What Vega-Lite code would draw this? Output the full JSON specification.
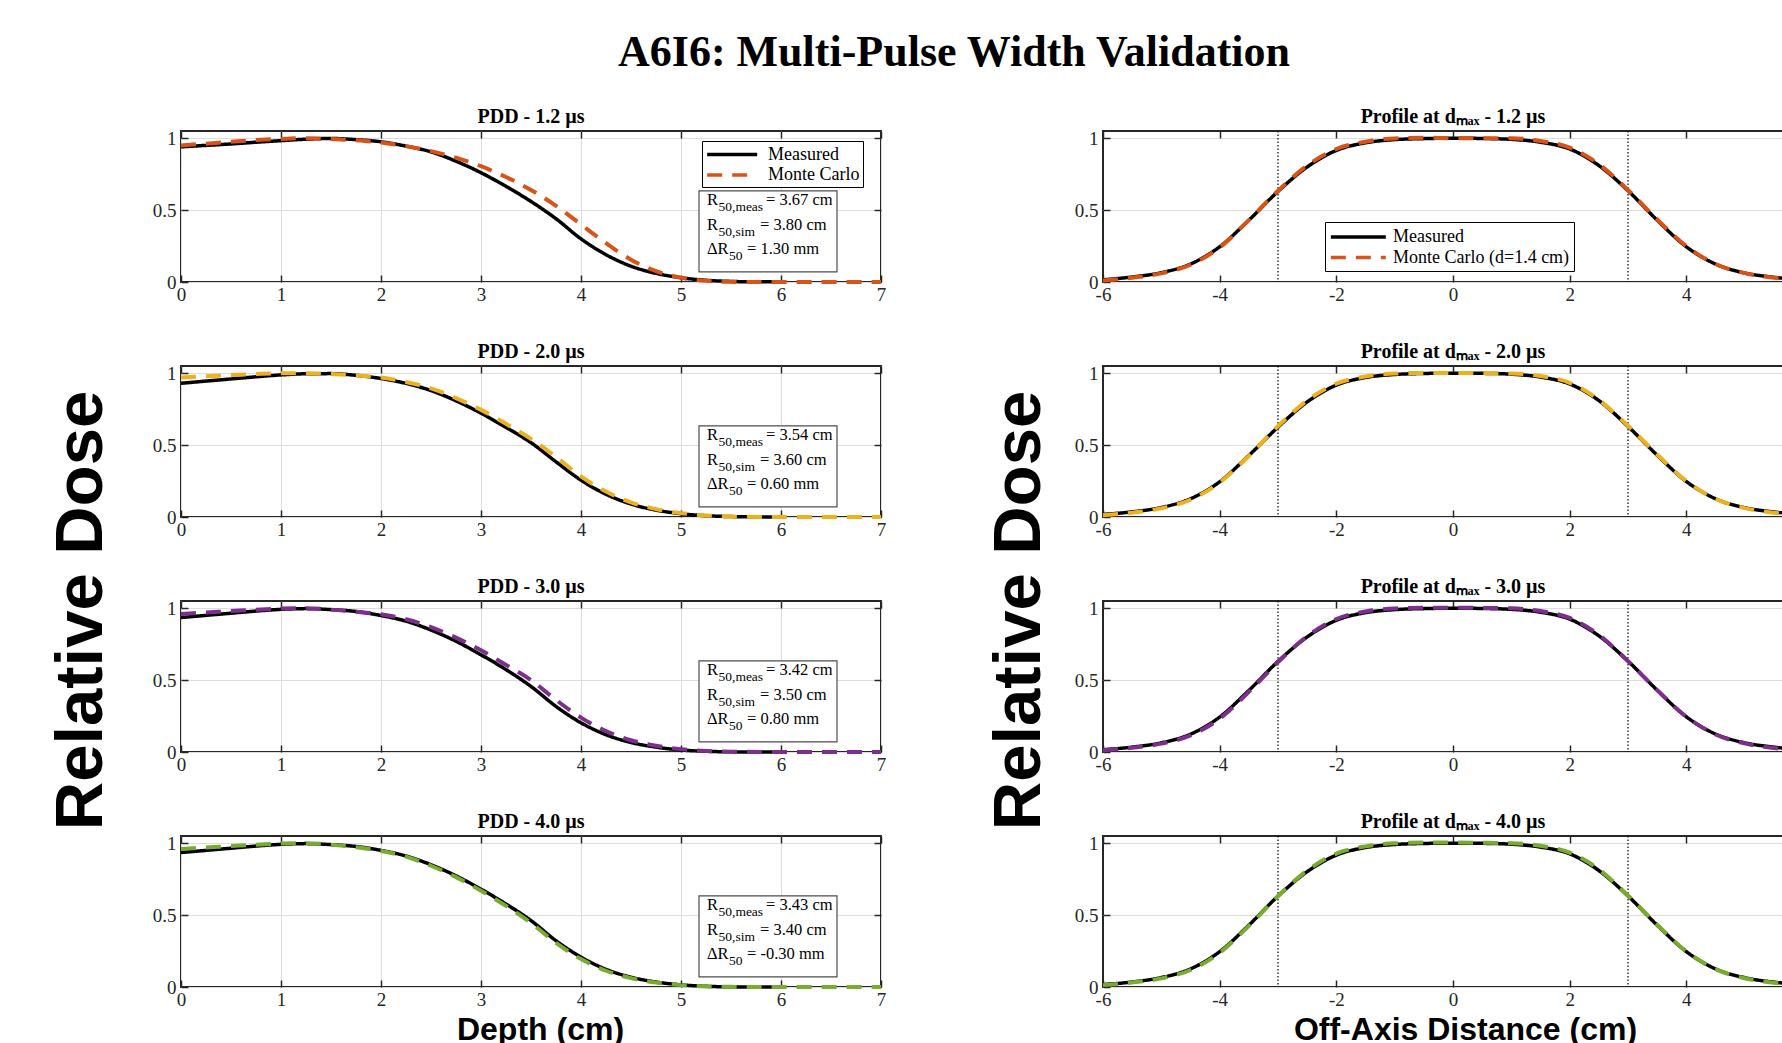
{
  "$schema": "https://vega.github.io/schema/vega-lite/v6.json",
  "background": "white",
  "padding": {"left": 45, "top": 31, "right": 0, "bottom": 30},
  "title": {"text": "A6I6: Multi-Pulse Width Validation", "font": "Liberation Serif", "fontSize": 44, "fontWeight": "bold", "color": "#000000", "anchor": "middle", "frame": "bounds", "offset": 31, "dx": 25},
  "datasets": {
    "m1": [{"x":0,"y":0.94},{"x":0.25,"y":0.95},{"x":0.5,"y":0.96},{"x":0.75,"y":0.972},{"x":1,"y":0.983},{"x":1.25,"y":0.993},{"x":1.5,"y":0.998},{"x":1.75,"y":0.99},{"x":2,"y":0.975},{"x":2.25,"y":0.945},{"x":2.5,"y":0.905},{"x":2.75,"y":0.84},{"x":3,"y":0.76},{"x":3.25,"y":0.665},{"x":3.5,"y":0.56},{"x":3.75,"y":0.44},{"x":4,"y":0.3},{"x":4.25,"y":0.19},{"x":4.5,"y":0.11},{"x":4.75,"y":0.06},{"x":5,"y":0.03},{"x":5.25,"y":0.012},{"x":5.5,"y":0.004},{"x":5.75,"y":0.001},{"x":6,"y":0.002}],
    "s1": [{"x":0,"y":0.95},{"x":0.25,"y":0.962},{"x":0.5,"y":0.975},{"x":0.75,"y":0.987},{"x":1,"y":0.995},{"x":1.25,"y":1.0},{"x":1.5,"y":0.995},{"x":1.75,"y":0.985},{"x":2,"y":0.97},{"x":2.25,"y":0.945},{"x":2.5,"y":0.91},{"x":2.75,"y":0.865},{"x":3,"y":0.805},{"x":3.25,"y":0.73},{"x":3.5,"y":0.64},{"x":3.75,"y":0.53},{"x":4,"y":0.4},{"x":4.25,"y":0.27},{"x":4.5,"y":0.155},{"x":4.75,"y":0.075},{"x":5,"y":0.03},{"x":5.25,"y":0.008},{"x":5.5,"y":0.001},{"x":6,"y":0},{"x":6.5,"y":0},{"x":7,"y":0}],
    "m2": [{"x":0,"y":0.93},{"x":0.25,"y":0.945},{"x":0.5,"y":0.96},{"x":0.75,"y":0.975},{"x":1,"y":0.988},{"x":1.25,"y":0.996},{"x":1.5,"y":0.997},{"x":1.75,"y":0.985},{"x":2,"y":0.963},{"x":2.25,"y":0.929},{"x":2.5,"y":0.879},{"x":2.75,"y":0.808},{"x":3,"y":0.722},{"x":3.25,"y":0.623},{"x":3.5,"y":0.517},{"x":3.75,"y":0.384},{"x":4,"y":0.256},{"x":4.25,"y":0.158},{"x":4.5,"y":0.09},{"x":4.75,"y":0.048},{"x":5,"y":0.023},{"x":5.25,"y":0.009},{"x":5.5,"y":0.003},{"x":5.75,"y":0.001},{"x":6,"y":0}],
    "s2": [{"x":0,"y":0.97},{"x":0.25,"y":0.978},{"x":0.5,"y":0.987},{"x":0.75,"y":0.994},{"x":1,"y":0.999},{"x":1.25,"y":1.0},{"x":1.5,"y":0.995},{"x":1.75,"y":0.985},{"x":2,"y":0.97},{"x":2.25,"y":0.939},{"x":2.5,"y":0.895},{"x":2.75,"y":0.827},{"x":3,"y":0.745},{"x":3.25,"y":0.648},{"x":3.5,"y":0.543},{"x":3.75,"y":0.418},{"x":4,"y":0.282},{"x":4.25,"y":0.177},{"x":4.5,"y":0.102},{"x":4.75,"y":0.055},{"x":5,"y":0.027},{"x":5.25,"y":0.011},{"x":5.5,"y":0.003},{"x":6,"y":0},{"x":6.5,"y":0},{"x":7,"y":0}],
    "m3": [{"x":0,"y":0.935},{"x":0.25,"y":0.95},{"x":0.5,"y":0.965},{"x":0.75,"y":0.98},{"x":1,"y":0.992},{"x":1.25,"y":0.997},{"x":1.5,"y":0.99},{"x":1.75,"y":0.977},{"x":2,"y":0.949},{"x":2.25,"y":0.91},{"x":2.5,"y":0.848},{"x":2.75,"y":0.77},{"x":3,"y":0.676},{"x":3.25,"y":0.573},{"x":3.5,"y":0.456},{"x":3.75,"y":0.317},{"x":4,"y":0.203},{"x":4.25,"y":0.12},{"x":4.5,"y":0.066},{"x":4.75,"y":0.034},{"x":5,"y":0.014},{"x":5.25,"y":0.005},{"x":5.5,"y":0.001},{"x":6,"y":0}],
    "s3": [{"x":0,"y":0.96},{"x":0.25,"y":0.97},{"x":0.5,"y":0.98},{"x":0.75,"y":0.99},{"x":1,"y":0.997},{"x":1.25,"y":1.0},{"x":1.5,"y":0.99},{"x":1.75,"y":0.975},{"x":2,"y":0.958},{"x":2.25,"y":0.923},{"x":2.5,"y":0.869},{"x":2.75,"y":0.795},{"x":3,"y":0.707},{"x":3.25,"y":0.606},{"x":3.5,"y":0.5},{"x":3.75,"y":0.362},{"x":4,"y":0.239},{"x":4.25,"y":0.145},{"x":4.5,"y":0.082},{"x":4.75,"y":0.043},{"x":5,"y":0.02},{"x":5.25,"y":0.007},{"x":5.5,"y":0.002},{"x":6,"y":0},{"x":6.5,"y":0},{"x":7,"y":0}],
    "m4": [{"x":0,"y":0.935},{"x":0.25,"y":0.95},{"x":0.5,"y":0.965},{"x":0.75,"y":0.98},{"x":1,"y":0.992},{"x":1.25,"y":0.997},{"x":1.5,"y":0.99},{"x":1.75,"y":0.977},{"x":2,"y":0.95},{"x":2.25,"y":0.911},{"x":2.5,"y":0.85},{"x":2.75,"y":0.773},{"x":3,"y":0.68},{"x":3.25,"y":0.577},{"x":3.5,"y":0.462},{"x":3.75,"y":0.322},{"x":4,"y":0.208},{"x":4.25,"y":0.123},{"x":4.5,"y":0.068},{"x":4.75,"y":0.035},{"x":5,"y":0.015},{"x":5.25,"y":0.005},{"x":5.5,"y":0.001},{"x":6,"y":0}],
    "s4": [{"x":0,"y":0.96},{"x":0.25,"y":0.97},{"x":0.5,"y":0.98},{"x":0.75,"y":0.99},{"x":1,"y":0.997},{"x":1.25,"y":1.0},{"x":1.5,"y":0.99},{"x":1.75,"y":0.972},{"x":2,"y":0.946},{"x":2.25,"y":0.907},{"x":2.5,"y":0.843},{"x":2.75,"y":0.764},{"x":3,"y":0.669},{"x":3.25,"y":0.564},{"x":3.5,"y":0.445},{"x":3.75,"y":0.306},{"x":4,"y":0.194},{"x":4.25,"y":0.113},{"x":4.5,"y":0.062},{"x":4.75,"y":0.031},{"x":5,"y":0.013},{"x":5.25,"y":0.004},{"x":5.5,"y":0.001},{"x":6,"y":0},{"x":6.5,"y":0},{"x":7,"y":0}],
    "pm1": [{"x":-6,"y":0.015},{"x":-5.5,"y":0.035},{"x":-5,"y":0.065},{"x":-4.5,"y":0.125},{"x":-4,"y":0.245},{"x":-3.5,"y":0.43},{"x":-3,"y":0.63},{"x":-2.5,"y":0.8},{"x":-2,"y":0.915},{"x":-1.5,"y":0.968},{"x":-1,"y":0.99},{"x":-0.5,"y":0.997},{"x":0,"y":1.0},{"x":0.5,"y":0.998},{"x":1,"y":0.992},{"x":1.5,"y":0.972},{"x":2,"y":0.925},{"x":2.5,"y":0.81},{"x":3,"y":0.635},{"x":3.5,"y":0.43},{"x":4,"y":0.245},{"x":4.5,"y":0.125},{"x":5,"y":0.063},{"x":5.5,"y":0.033},{"x":6,"y":0.015}],
    "ps1": [{"x":-6,"y":0.01},{"x":-5.5,"y":0.03},{"x":-5,"y":0.06},{"x":-4.5,"y":0.12},{"x":-4,"y":0.24},{"x":-3.5,"y":0.43},{"x":-3,"y":0.635},{"x":-2.5,"y":0.81},{"x":-2,"y":0.925},{"x":-1.5,"y":0.975},{"x":-1,"y":0.998},{"x":-0.5,"y":1.003},{"x":0,"y":1.0},{"x":0.5,"y":1.0},{"x":1,"y":1.0},{"x":1.5,"y":0.98},{"x":2,"y":0.935},{"x":2.5,"y":0.82},{"x":3,"y":0.64},{"x":3.5,"y":0.435},{"x":4,"y":0.25},{"x":4.5,"y":0.125},{"x":5,"y":0.062},{"x":5.5,"y":0.03},{"x":6,"y":0.012}],
    "pm2": [{"x":-6,"y":0.018},{"x":-5.5,"y":0.036},{"x":-5,"y":0.066},{"x":-4.5,"y":0.127},{"x":-4,"y":0.245},{"x":-3.5,"y":0.428},{"x":-3,"y":0.625},{"x":-2.5,"y":0.8},{"x":-2,"y":0.917},{"x":-1.5,"y":0.97},{"x":-1,"y":0.991},{"x":-0.5,"y":0.998},{"x":0,"y":1.0},{"x":0.5,"y":0.999},{"x":1,"y":0.993},{"x":1.5,"y":0.973},{"x":2,"y":0.925},{"x":2.5,"y":0.81},{"x":3,"y":0.63},{"x":3.5,"y":0.43},{"x":4,"y":0.247},{"x":4.5,"y":0.127},{"x":5,"y":0.065},{"x":5.5,"y":0.035},{"x":6,"y":0.018}],
    "ps2": [{"x":-6,"y":0.012},{"x":-5.5,"y":0.03},{"x":-5,"y":0.06},{"x":-4.5,"y":0.12},{"x":-4,"y":0.24},{"x":-3.5,"y":0.425},{"x":-3,"y":0.632},{"x":-2.5,"y":0.81},{"x":-2,"y":0.927},{"x":-1.5,"y":0.977},{"x":-1,"y":0.997},{"x":-0.5,"y":1.002},{"x":0,"y":1.002},{"x":0.5,"y":1.0},{"x":1,"y":0.998},{"x":1.5,"y":0.98},{"x":2,"y":0.933},{"x":2.5,"y":0.815},{"x":3,"y":0.635},{"x":3.5,"y":0.435},{"x":4,"y":0.25},{"x":4.5,"y":0.126},{"x":5,"y":0.062},{"x":5.5,"y":0.03},{"x":6,"y":0.012}],
    "pm3": [{"x":-6,"y":0.016},{"x":-5.5,"y":0.034},{"x":-5,"y":0.064},{"x":-4.5,"y":0.124},{"x":-4,"y":0.243},{"x":-3.5,"y":0.428},{"x":-3,"y":0.63},{"x":-2.5,"y":0.8},{"x":-2,"y":0.916},{"x":-1.5,"y":0.969},{"x":-1,"y":0.99},{"x":-0.5,"y":0.997},{"x":0,"y":1.0},{"x":0.5,"y":0.998},{"x":1,"y":0.992},{"x":1.5,"y":0.972},{"x":2,"y":0.924},{"x":2.5,"y":0.808},{"x":3,"y":0.632},{"x":3.5,"y":0.43},{"x":4,"y":0.245},{"x":4.5,"y":0.125},{"x":5,"y":0.064},{"x":5.5,"y":0.034},{"x":6,"y":0.016}],
    "ps3": [{"x":-6,"y":0.012},{"x":-5.5,"y":0.03},{"x":-5,"y":0.058},{"x":-4.5,"y":0.115},{"x":-4,"y":0.232},{"x":-3.5,"y":0.418},{"x":-3,"y":0.625},{"x":-2.5,"y":0.805},{"x":-2,"y":0.925},{"x":-1.5,"y":0.977},{"x":-1,"y":0.998},{"x":-0.5,"y":1.003},{"x":0,"y":1.003},{"x":0.5,"y":1.002},{"x":1,"y":0.999},{"x":1.5,"y":0.98},{"x":2,"y":0.932},{"x":2.5,"y":0.815},{"x":3,"y":0.632},{"x":3.5,"y":0.43},{"x":4,"y":0.245},{"x":4.5,"y":0.122},{"x":5,"y":0.06},{"x":5.5,"y":0.028},{"x":6,"y":0.012}],
    "pm4": [{"x":-6,"y":0.017},{"x":-5.5,"y":0.035},{"x":-5,"y":0.066},{"x":-4.5,"y":0.126},{"x":-4,"y":0.246},{"x":-3.5,"y":0.43},{"x":-3,"y":0.632},{"x":-2.5,"y":0.802},{"x":-2,"y":0.917},{"x":-1.5,"y":0.97},{"x":-1,"y":0.991},{"x":-0.5,"y":0.998},{"x":0,"y":1.0},{"x":0.5,"y":0.999},{"x":1,"y":0.993},{"x":1.5,"y":0.973},{"x":2,"y":0.926},{"x":2.5,"y":0.81},{"x":3,"y":0.633},{"x":3.5,"y":0.43},{"x":4,"y":0.246},{"x":4.5,"y":0.126},{"x":5,"y":0.065},{"x":5.5,"y":0.034},{"x":6,"y":0.017}],
    "ps4": [{"x":-6,"y":0.013},{"x":-5.5,"y":0.031},{"x":-5,"y":0.06},{"x":-4.5,"y":0.118},{"x":-4,"y":0.238},{"x":-3.5,"y":0.425},{"x":-3,"y":0.632},{"x":-2.5,"y":0.81},{"x":-2,"y":0.928},{"x":-1.5,"y":0.978},{"x":-1,"y":0.999},{"x":-0.5,"y":1.004},{"x":0,"y":1.004},{"x":0.5,"y":1.003},{"x":1,"y":1.0},{"x":1.5,"y":0.982},{"x":2,"y":0.935},{"x":2.5,"y":0.818},{"x":3,"y":0.636},{"x":3.5,"y":0.433},{"x":4,"y":0.248},{"x":4.5,"y":0.124},{"x":5,"y":0.061},{"x":5.5,"y":0.03},{"x":6,"y":0.013}],
    "ann": [
      {"p": "1.2", "v1": "= 3.67 cm", "v2": "= 3.80 cm", "v3": "= 1.30 mm"},
      {"p": "2.0", "v1": "= 3.54 cm", "v2": "= 3.60 cm", "v3": "= 0.60 mm"},
      {"p": "3.0", "v1": "= 3.42 cm", "v2": "= 3.50 cm", "v3": "= 0.80 mm"},
      {"p": "4.0", "v1": "= 3.43 cm", "v2": "= 3.40 cm", "v3": "= -0.30 mm"}
    ],
    "edges": [{"x": -3}, {"x": 3}]
  },
  "concat": [
    {
      "width": 700, "height": 151,
      "title": {"text": "PDD - 1.2 µs"},
      "resolve": {"axis": {"x": "independent", "y": "independent"}},
      "layer": [
        {"data": {"name": "m1"}, "mark": {"type": "line", "interpolate": "monotone", "strokeWidth": 3.5},
         "encoding": {
           "x": {"field": "x", "type": "quantitative", "scale": {"domain": [0, 7], "nice": false, "zero": false}, "axis": {"values": [0,1,2,3,4,5,6,7], "title": null}},
           "y": {"field": "y", "type": "quantitative", "scale": {"domain": [0, 1.05], "nice": false, "zero": false}, "axis": {"values": [0, 0.5, 1], "format": "~g", "title": null}},
           "color": {"datum": "Measured", "scale": {"domain": ["Measured", "Monte Carlo"], "range": ["#000000", "#D95319"]}, "legend": {"title": null, "orient": "none", "legendX": 521, "legendY": 10, "fillColor": "#ffffff", "strokeColor": "#000000", "padding": 3, "symbolType": "M-1,0H5", "symbolSize": 278, "symbolStrokeWidth": 3.5, "labelOffset": 42, "rowPadding": 0.5, "labelLimit": 300}},
           "strokeDash": {"datum": "Measured", "scale": {"domain": ["Measured", "Monte Carlo"], "range": [[1, 0], [15, 10]]}, "legend": {"title": null, "orient": "none", "legendX": 521, "legendY": 10, "fillColor": "#ffffff", "strokeColor": "#000000", "padding": 3, "symbolType": "M-1,0H5", "symbolSize": 278, "symbolStrokeWidth": 3.5, "labelOffset": 42, "rowPadding": 0.5, "labelLimit": 300}}
         }},
        {"data": {"name": "s1"}, "mark": {"type": "line", "interpolate": "monotone", "strokeWidth": 4},
         "encoding": {
           "x": {"field": "x", "type": "quantitative", "axis": {"orient": "top", "values": [0,1,2,3,4,5,6,7], "labels": false, "grid": false, "title": null}},
           "y": {"field": "y", "type": "quantitative", "axis": {"orient": "right", "values": [0, 0.5, 1], "labels": false, "grid": false, "title": null}},
           "color": {"datum": "Monte Carlo"},
           "strokeDash": {"datum": "Monte Carlo"}
         }},
        {"data": {"name": "ann"}, "transform": [{"filter": "datum.p == '1.2'"}], "mark": {"type": "rect", "fill": "#ffffff", "stroke": "#4d4d4d", "strokeWidth": 1.2},
         "encoding": {"x": {"datum": 5.18, "type": "quantitative", "axis": null}, "x2": {"datum": 6.56}, "y": {"datum": 0.07, "type": "quantitative", "axis": null}, "y2": {"datum": 0.634}}},
        {"data": {"name": "ann"}, "transform": [{"filter": "datum.p == '1.2'"}], "mark": {"type": "text", "text": ["R", "R", "ΔR"], "lineHeight": 24.5},
         "encoding": {"x": {"datum": 5.26, "type": "quantitative", "axis": null}, "y": {"datum": 0.533, "type": "quantitative", "axis": null}}},
        {"data": {"name": "ann"}, "transform": [{"filter": "datum.p == '1.2'"}], "mark": {"type": "text", "text": ["50,meas", "50,sim"], "lineHeight": 24.5, "fontSize": 13.5, "dx": 11.5, "dy": 6},
         "encoding": {"x": {"datum": 5.26, "type": "quantitative", "axis": null}, "y": {"datum": 0.533, "type": "quantitative", "axis": null}}},
        {"data": {"name": "ann"}, "transform": [{"filter": "datum.p == '1.2'"}], "mark": {"type": "text", "text": "50", "fontSize": 13.5, "dx": 22, "dy": 6},
         "encoding": {"x": {"datum": 5.26, "type": "quantitative", "axis": null}, "y": {"datum": 0.193, "type": "quantitative", "axis": null}}},
        {"data": {"name": "ann"}, "transform": [{"filter": "datum.p == '1.2'"}], "mark": {"type": "text", "dx": 59},
         "encoding": {"x": {"datum": 5.26, "type": "quantitative", "axis": null}, "y": {"datum": 0.533, "type": "quantitative", "axis": null}, "text": {"field": "v1"}}},
        {"data": {"name": "ann"}, "transform": [{"filter": "datum.p == '1.2'"}], "mark": {"type": "text", "dx": 53},
         "encoding": {"x": {"datum": 5.26, "type": "quantitative", "axis": null}, "y": {"datum": 0.363, "type": "quantitative", "axis": null}, "text": {"field": "v2"}}},
        {"data": {"name": "ann"}, "transform": [{"filter": "datum.p == '1.2'"}], "mark": {"type": "text", "dx": 40},
         "encoding": {"x": {"datum": 5.26, "type": "quantitative", "axis": null}, "y": {"datum": 0.193, "type": "quantitative", "axis": null}, "text": {"field": "v3"}}}
      ]
    },
    {
      "width": 700, "height": 151,
      "title": {"text": "Profile at dₘₐₓ - 1.2 µs"},
      "resolve": {"axis": {"x": "independent", "y": "independent"}},
      "layer": [
        {"data": {"name": "edges"}, "mark": {"type": "rule", "color": "#000000", "strokeWidth": 1.2, "strokeDash": [1.5, 2]},
         "encoding": {"x": {"field": "x", "type": "quantitative", "axis": null}}},
        {"data": {"name": "pm1"}, "mark": {"type": "line", "interpolate": "monotone", "strokeWidth": 3.5},
         "encoding": {
           "x": {"field": "x", "type": "quantitative", "scale": {"domain": [-6, 6], "nice": false, "zero": false}, "axis": {"values": [-6,-4,-2,0,2,4], "format": "~g", "labelExpr": "replace(datum.label, '−', '-')", "title": null}},
           "y": {"field": "y", "type": "quantitative", "scale": {"domain": [0, 1.05], "nice": false, "zero": false}, "axis": {"values": [0, 0.5, 1], "format": "~g", "title": null}},
           "color": {"datum": "Measured", "scale": {"domain": ["Measured", "Monte Carlo (d=1.4 cm)"], "range": ["#000000", "#D95319"]}, "legend": {"title": null, "orient": "none", "legendX": 222, "legendY": 91, "fillColor": "#ffffff", "strokeColor": "#000000", "padding": 4, "symbolType": "M-1,0H5", "symbolSize": 336, "symbolStrokeWidth": 3.5, "labelOffset": 42, "rowPadding": 0.5, "labelLimit": 300}},
           "strokeDash": {"datum": "Measured", "scale": {"domain": ["Measured", "Monte Carlo (d=1.4 cm)"], "range": [[1, 0], [15, 10]]}, "legend": {"title": null, "orient": "none", "legendX": 222, "legendY": 91, "fillColor": "#ffffff", "strokeColor": "#000000", "padding": 4, "symbolType": "M-1,0H5", "symbolSize": 336, "symbolStrokeWidth": 3.5, "labelOffset": 42, "rowPadding": 0.5, "labelLimit": 300}}
         }},
        {"data": {"name": "ps1"}, "mark": {"type": "line", "interpolate": "monotone", "strokeWidth": 4},
         "encoding": {
           "x": {"field": "x", "type": "quantitative", "axis": {"orient": "top", "values": [-6,-4,-2,0,2,4], "labels": false, "grid": false, "title": null}},
           "y": {"field": "y", "type": "quantitative", "axis": {"orient": "right", "values": [0, 0.5, 1], "labels": false, "grid": false, "title": null}},
           "color": {"datum": "Monte Carlo (d=1.4 cm)"},
           "strokeDash": {"datum": "Monte Carlo (d=1.4 cm)"}
         }}
      ]
    },
    {
      "width": 700, "height": 151,
      "title": {"text": "PDD - 2.0 µs"},
      "resolve": {"axis": {"x": "independent", "y": "independent"}},
      "layer": [
        {"data": {"name": "m2"}, "mark": {"type": "line", "interpolate": "monotone", "strokeWidth": 3.5},
         "encoding": {
           "x": {"field": "x", "type": "quantitative", "scale": {"domain": [0, 7], "nice": false, "zero": false}, "axis": {"values": [0,1,2,3,4,5,6,7], "title": null}},
           "y": {"field": "y", "type": "quantitative", "scale": {"domain": [0, 1.05], "nice": false, "zero": false}, "axis": {"values": [0, 0.5, 1], "format": "~g", "title": "Relative Dose", "titleFontSize": 67, "titleBaseline": "alphabetic", "titleX": -80, "titleY": 244}},
           "color": {"datum": "Measured", "scale": {"domain": ["Measured", "Monte Carlo"], "range": ["#000000", "#EDB120"]}, "legend": null},
           "strokeDash": {"datum": "Measured", "scale": {"domain": ["Measured", "Monte Carlo"], "range": [[1, 0], [15, 10]]}, "legend": null}
         }},
        {"data": {"name": "s2"}, "mark": {"type": "line", "interpolate": "monotone", "strokeWidth": 4},
         "encoding": {
           "x": {"field": "x", "type": "quantitative", "axis": {"orient": "top", "values": [0,1,2,3,4,5,6,7], "labels": false, "grid": false, "title": null}},
           "y": {"field": "y", "type": "quantitative", "axis": {"orient": "right", "values": [0, 0.5, 1], "labels": false, "grid": false, "title": null}},
           "color": {"datum": "Monte Carlo"},
           "strokeDash": {"datum": "Monte Carlo"}
         }},
        {"data": {"name": "ann"}, "transform": [{"filter": "datum.p == '2.0'"}], "mark": {"type": "rect", "fill": "#ffffff", "stroke": "#4d4d4d", "strokeWidth": 1.2},
         "encoding": {"x": {"datum": 5.18, "type": "quantitative", "axis": null}, "x2": {"datum": 6.56}, "y": {"datum": 0.07, "type": "quantitative", "axis": null}, "y2": {"datum": 0.634}}},
        {"data": {"name": "ann"}, "transform": [{"filter": "datum.p == '2.0'"}], "mark": {"type": "text", "text": ["R", "R", "ΔR"], "lineHeight": 24.5},
         "encoding": {"x": {"datum": 5.26, "type": "quantitative", "axis": null}, "y": {"datum": 0.533, "type": "quantitative", "axis": null}}},
        {"data": {"name": "ann"}, "transform": [{"filter": "datum.p == '2.0'"}], "mark": {"type": "text", "text": ["50,meas", "50,sim"], "lineHeight": 24.5, "fontSize": 13.5, "dx": 11.5, "dy": 6},
         "encoding": {"x": {"datum": 5.26, "type": "quantitative", "axis": null}, "y": {"datum": 0.533, "type": "quantitative", "axis": null}}},
        {"data": {"name": "ann"}, "transform": [{"filter": "datum.p == '2.0'"}], "mark": {"type": "text", "text": "50", "fontSize": 13.5, "dx": 22, "dy": 6},
         "encoding": {"x": {"datum": 5.26, "type": "quantitative", "axis": null}, "y": {"datum": 0.193, "type": "quantitative", "axis": null}}},
        {"data": {"name": "ann"}, "transform": [{"filter": "datum.p == '2.0'"}], "mark": {"type": "text", "dx": 59},
         "encoding": {"x": {"datum": 5.26, "type": "quantitative", "axis": null}, "y": {"datum": 0.533, "type": "quantitative", "axis": null}, "text": {"field": "v1"}}},
        {"data": {"name": "ann"}, "transform": [{"filter": "datum.p == '2.0'"}], "mark": {"type": "text", "dx": 53},
         "encoding": {"x": {"datum": 5.26, "type": "quantitative", "axis": null}, "y": {"datum": 0.363, "type": "quantitative", "axis": null}, "text": {"field": "v2"}}},
        {"data": {"name": "ann"}, "transform": [{"filter": "datum.p == '2.0'"}], "mark": {"type": "text", "dx": 40},
         "encoding": {"x": {"datum": 5.26, "type": "quantitative", "axis": null}, "y": {"datum": 0.193, "type": "quantitative", "axis": null}, "text": {"field": "v3"}}}
      ]
    },
    {
      "width": 700, "height": 151,
      "title": {"text": "Profile at dₘₐₓ - 2.0 µs"},
      "resolve": {"axis": {"x": "independent", "y": "independent"}},
      "layer": [
        {"data": {"name": "edges"}, "mark": {"type": "rule", "color": "#000000", "strokeWidth": 1.2, "strokeDash": [1.5, 2]},
         "encoding": {"x": {"field": "x", "type": "quantitative", "axis": null}}},
        {"data": {"name": "pm2"}, "mark": {"type": "line", "interpolate": "monotone", "strokeWidth": 3.5},
         "encoding": {
           "x": {"field": "x", "type": "quantitative", "scale": {"domain": [-6, 6], "nice": false, "zero": false}, "axis": {"values": [-6,-4,-2,0,2,4], "format": "~g", "labelExpr": "replace(datum.label, '−', '-')", "title": null}},
           "y": {"field": "y", "type": "quantitative", "scale": {"domain": [0, 1.05], "nice": false, "zero": false}, "axis": {"values": [0, 0.5, 1], "format": "~g", "title": "Relative Dose", "titleFontSize": 67, "titleBaseline": "alphabetic", "titleX": -64, "titleY": 244}},
           "color": {"datum": "Measured", "scale": {"domain": ["Measured", "Monte Carlo"], "range": ["#000000", "#EDB120"]}, "legend": null},
           "strokeDash": {"datum": "Measured", "scale": {"domain": ["Measured", "Monte Carlo"], "range": [[1, 0], [15, 10]]}, "legend": null}
         }},
        {"data": {"name": "ps2"}, "mark": {"type": "line", "interpolate": "monotone", "strokeWidth": 4},
         "encoding": {
           "x": {"field": "x", "type": "quantitative", "axis": {"orient": "top", "values": [-6,-4,-2,0,2,4], "labels": false, "grid": false, "title": null}},
           "y": {"field": "y", "type": "quantitative", "axis": {"orient": "right", "values": [0, 0.5, 1], "labels": false, "grid": false, "title": null}},
           "color": {"datum": "Monte Carlo"},
           "strokeDash": {"datum": "Monte Carlo"}
         }}
      ]
    },
    {
      "width": 700, "height": 151,
      "title": {"text": "PDD - 3.0 µs"},
      "resolve": {"axis": {"x": "independent", "y": "independent"}},
      "layer": [
        {"data": {"name": "m3"}, "mark": {"type": "line", "interpolate": "monotone", "strokeWidth": 3.5},
         "encoding": {
           "x": {"field": "x", "type": "quantitative", "scale": {"domain": [0, 7], "nice": false, "zero": false}, "axis": {"values": [0,1,2,3,4,5,6,7], "title": null}},
           "y": {"field": "y", "type": "quantitative", "scale": {"domain": [0, 1.05], "nice": false, "zero": false}, "axis": {"values": [0, 0.5, 1], "format": "~g", "title": null}},
           "color": {"datum": "Measured", "scale": {"domain": ["Measured", "Monte Carlo"], "range": ["#000000", "#7E2F8E"]}, "legend": null},
           "strokeDash": {"datum": "Measured", "scale": {"domain": ["Measured", "Monte Carlo"], "range": [[1, 0], [15, 10]]}, "legend": null}
         }},
        {"data": {"name": "s3"}, "mark": {"type": "line", "interpolate": "monotone", "strokeWidth": 4},
         "encoding": {
           "x": {"field": "x", "type": "quantitative", "axis": {"orient": "top", "values": [0,1,2,3,4,5,6,7], "labels": false, "grid": false, "title": null}},
           "y": {"field": "y", "type": "quantitative", "axis": {"orient": "right", "values": [0, 0.5, 1], "labels": false, "grid": false, "title": null}},
           "color": {"datum": "Monte Carlo"},
           "strokeDash": {"datum": "Monte Carlo"}
         }},
        {"data": {"name": "ann"}, "transform": [{"filter": "datum.p == '3.0'"}], "mark": {"type": "rect", "fill": "#ffffff", "stroke": "#4d4d4d", "strokeWidth": 1.2},
         "encoding": {"x": {"datum": 5.18, "type": "quantitative", "axis": null}, "x2": {"datum": 6.56}, "y": {"datum": 0.07, "type": "quantitative", "axis": null}, "y2": {"datum": 0.634}}},
        {"data": {"name": "ann"}, "transform": [{"filter": "datum.p == '3.0'"}], "mark": {"type": "text", "text": ["R", "R", "ΔR"], "lineHeight": 24.5},
         "encoding": {"x": {"datum": 5.26, "type": "quantitative", "axis": null}, "y": {"datum": 0.533, "type": "quantitative", "axis": null}}},
        {"data": {"name": "ann"}, "transform": [{"filter": "datum.p == '3.0'"}], "mark": {"type": "text", "text": ["50,meas", "50,sim"], "lineHeight": 24.5, "fontSize": 13.5, "dx": 11.5, "dy": 6},
         "encoding": {"x": {"datum": 5.26, "type": "quantitative", "axis": null}, "y": {"datum": 0.533, "type": "quantitative", "axis": null}}},
        {"data": {"name": "ann"}, "transform": [{"filter": "datum.p == '3.0'"}], "mark": {"type": "text", "text": "50", "fontSize": 13.5, "dx": 22, "dy": 6},
         "encoding": {"x": {"datum": 5.26, "type": "quantitative", "axis": null}, "y": {"datum": 0.193, "type": "quantitative", "axis": null}}},
        {"data": {"name": "ann"}, "transform": [{"filter": "datum.p == '3.0'"}], "mark": {"type": "text", "dx": 59},
         "encoding": {"x": {"datum": 5.26, "type": "quantitative", "axis": null}, "y": {"datum": 0.533, "type": "quantitative", "axis": null}, "text": {"field": "v1"}}},
        {"data": {"name": "ann"}, "transform": [{"filter": "datum.p == '3.0'"}], "mark": {"type": "text", "dx": 53},
         "encoding": {"x": {"datum": 5.26, "type": "quantitative", "axis": null}, "y": {"datum": 0.363, "type": "quantitative", "axis": null}, "text": {"field": "v2"}}},
        {"data": {"name": "ann"}, "transform": [{"filter": "datum.p == '3.0'"}], "mark": {"type": "text", "dx": 40},
         "encoding": {"x": {"datum": 5.26, "type": "quantitative", "axis": null}, "y": {"datum": 0.193, "type": "quantitative", "axis": null}, "text": {"field": "v3"}}}
      ]
    },
    {
      "width": 700, "height": 151,
      "title": {"text": "Profile at dₘₐₓ - 3.0 µs"},
      "resolve": {"axis": {"x": "independent", "y": "independent"}},
      "layer": [
        {"data": {"name": "edges"}, "mark": {"type": "rule", "color": "#000000", "strokeWidth": 1.2, "strokeDash": [1.5, 2]},
         "encoding": {"x": {"field": "x", "type": "quantitative", "axis": null}}},
        {"data": {"name": "pm3"}, "mark": {"type": "line", "interpolate": "monotone", "strokeWidth": 3.5},
         "encoding": {
           "x": {"field": "x", "type": "quantitative", "scale": {"domain": [-6, 6], "nice": false, "zero": false}, "axis": {"values": [-6,-4,-2,0,2,4], "format": "~g", "labelExpr": "replace(datum.label, '−', '-')", "title": null}},
           "y": {"field": "y", "type": "quantitative", "scale": {"domain": [0, 1.05], "nice": false, "zero": false}, "axis": {"values": [0, 0.5, 1], "format": "~g", "title": null}},
           "color": {"datum": "Measured", "scale": {"domain": ["Measured", "Monte Carlo"], "range": ["#000000", "#7E2F8E"]}, "legend": null},
           "strokeDash": {"datum": "Measured", "scale": {"domain": ["Measured", "Monte Carlo"], "range": [[1, 0], [15, 10]]}, "legend": null}
         }},
        {"data": {"name": "ps3"}, "mark": {"type": "line", "interpolate": "monotone", "strokeWidth": 4},
         "encoding": {
           "x": {"field": "x", "type": "quantitative", "axis": {"orient": "top", "values": [-6,-4,-2,0,2,4], "labels": false, "grid": false, "title": null}},
           "y": {"field": "y", "type": "quantitative", "axis": {"orient": "right", "values": [0, 0.5, 1], "labels": false, "grid": false, "title": null}},
           "color": {"datum": "Monte Carlo"},
           "strokeDash": {"datum": "Monte Carlo"}
         }}
      ]
    },
    {
      "width": 700, "height": 151,
      "title": {"text": "PDD - 4.0 µs"},
      "resolve": {"axis": {"x": "independent", "y": "independent"}},
      "layer": [
        {"data": {"name": "m4"}, "mark": {"type": "line", "interpolate": "monotone", "strokeWidth": 3.5},
         "encoding": {
           "x": {"field": "x", "type": "quantitative", "scale": {"domain": [0, 7], "nice": false, "zero": false}, "axis": {"values": [0,1,2,3,4,5,6,7], "title": "Depth (cm)", "titleFontSize": 32, "titleBaseline": "alphabetic", "titleX": 359, "titleY": 52}},
           "y": {"field": "y", "type": "quantitative", "scale": {"domain": [0, 1.05], "nice": false, "zero": false}, "axis": {"values": [0, 0.5, 1], "format": "~g", "title": null}},
           "color": {"datum": "Measured", "scale": {"domain": ["Measured", "Monte Carlo"], "range": ["#000000", "#77AC30"]}, "legend": null},
           "strokeDash": {"datum": "Measured", "scale": {"domain": ["Measured", "Monte Carlo"], "range": [[1, 0], [15, 10]]}, "legend": null}
         }},
        {"data": {"name": "s4"}, "mark": {"type": "line", "interpolate": "monotone", "strokeWidth": 4},
         "encoding": {
           "x": {"field": "x", "type": "quantitative", "axis": {"orient": "top", "values": [0,1,2,3,4,5,6,7], "labels": false, "grid": false, "title": null}},
           "y": {"field": "y", "type": "quantitative", "axis": {"orient": "right", "values": [0, 0.5, 1], "labels": false, "grid": false, "title": null}},
           "color": {"datum": "Monte Carlo"},
           "strokeDash": {"datum": "Monte Carlo"}
         }},
        {"data": {"name": "ann"}, "transform": [{"filter": "datum.p == '4.0'"}], "mark": {"type": "rect", "fill": "#ffffff", "stroke": "#4d4d4d", "strokeWidth": 1.2},
         "encoding": {"x": {"datum": 5.18, "type": "quantitative", "axis": null}, "x2": {"datum": 6.56}, "y": {"datum": 0.07, "type": "quantitative", "axis": null}, "y2": {"datum": 0.634}}},
        {"data": {"name": "ann"}, "transform": [{"filter": "datum.p == '4.0'"}], "mark": {"type": "text", "text": ["R", "R", "ΔR"], "lineHeight": 24.5},
         "encoding": {"x": {"datum": 5.26, "type": "quantitative", "axis": null}, "y": {"datum": 0.533, "type": "quantitative", "axis": null}}},
        {"data": {"name": "ann"}, "transform": [{"filter": "datum.p == '4.0'"}], "mark": {"type": "text", "text": ["50,meas", "50,sim"], "lineHeight": 24.5, "fontSize": 13.5, "dx": 11.5, "dy": 6},
         "encoding": {"x": {"datum": 5.26, "type": "quantitative", "axis": null}, "y": {"datum": 0.533, "type": "quantitative", "axis": null}}},
        {"data": {"name": "ann"}, "transform": [{"filter": "datum.p == '4.0'"}], "mark": {"type": "text", "text": "50", "fontSize": 13.5, "dx": 22, "dy": 6},
         "encoding": {"x": {"datum": 5.26, "type": "quantitative", "axis": null}, "y": {"datum": 0.193, "type": "quantitative", "axis": null}}},
        {"data": {"name": "ann"}, "transform": [{"filter": "datum.p == '4.0'"}], "mark": {"type": "text", "dx": 59},
         "encoding": {"x": {"datum": 5.26, "type": "quantitative", "axis": null}, "y": {"datum": 0.533, "type": "quantitative", "axis": null}, "text": {"field": "v1"}}},
        {"data": {"name": "ann"}, "transform": [{"filter": "datum.p == '4.0'"}], "mark": {"type": "text", "dx": 53},
         "encoding": {"x": {"datum": 5.26, "type": "quantitative", "axis": null}, "y": {"datum": 0.363, "type": "quantitative", "axis": null}, "text": {"field": "v2"}}},
        {"data": {"name": "ann"}, "transform": [{"filter": "datum.p == '4.0'"}], "mark": {"type": "text", "dx": 40},
         "encoding": {"x": {"datum": 5.26, "type": "quantitative", "axis": null}, "y": {"datum": 0.193, "type": "quantitative", "axis": null}, "text": {"field": "v3"}}}
      ]
    },
    {
      "width": 700, "height": 151,
      "title": {"text": "Profile at dₘₐₓ - 4.0 µs"},
      "resolve": {"axis": {"x": "independent", "y": "independent"}},
      "layer": [
        {"data": {"name": "edges"}, "mark": {"type": "rule", "color": "#000000", "strokeWidth": 1.2, "strokeDash": [1.5, 2]},
         "encoding": {"x": {"field": "x", "type": "quantitative", "axis": null}}},
        {"data": {"name": "pm4"}, "mark": {"type": "line", "interpolate": "monotone", "strokeWidth": 3.5},
         "encoding": {
           "x": {"field": "x", "type": "quantitative", "scale": {"domain": [-6, 6], "nice": false, "zero": false}, "axis": {"values": [-6,-4,-2,0,2,4], "format": "~g", "labelExpr": "replace(datum.label, '−', '-')", "title": "Off-Axis Distance (cm)", "titleFontSize": 32, "titleBaseline": "alphabetic", "titleX": 362, "titleY": 52}},
           "y": {"field": "y", "type": "quantitative", "scale": {"domain": [0, 1.05], "nice": false, "zero": false}, "axis": {"values": [0, 0.5, 1], "format": "~g", "title": null}},
           "color": {"datum": "Measured", "scale": {"domain": ["Measured", "Monte Carlo"], "range": ["#000000", "#77AC30"]}, "legend": null},
           "strokeDash": {"datum": "Measured", "scale": {"domain": ["Measured", "Monte Carlo"], "range": [[1, 0], [15, 10]]}, "legend": null}
         }},
        {"data": {"name": "ps4"}, "mark": {"type": "line", "interpolate": "monotone", "strokeWidth": 4},
         "encoding": {
           "x": {"field": "x", "type": "quantitative", "axis": {"orient": "top", "values": [-6,-4,-2,0,2,4], "labels": false, "grid": false, "title": null}},
           "y": {"field": "y", "type": "quantitative", "axis": {"orient": "right", "values": [0, 0.5, 1], "labels": false, "grid": false, "title": null}},
           "color": {"datum": "Monte Carlo"},
           "strokeDash": {"datum": "Monte Carlo"}
         }}
      ]
    }
  ],
  "columns": 2,
  "bounds": "flush",
  "spacing": {"row": 84, "column": 222},
  "resolve": {"scale": {"color": "independent", "strokeDash": "independent"}},
  "config": {
    "view": {"stroke": "#262626", "strokeWidth": 2},
    "axis": {"labelFont": "Liberation Serif", "labelFontSize": 19, "labelColor": "#262626", "tickColor": "#262626", "tickWidth": 1.5, "tickSize": -7, "labelPadding": 12, "domain": false, "grid": true, "gridColor": "#DDDDDD", "gridWidth": 1, "labelFlush": false, "labelOverlap": false, "titleFont": "Liberation Sans", "titleFontWeight": "bold", "titleFontSize": 34, "titleColor": "#000000"},
    "axisX": {"labelPadding": 10},
    "style": {"guide-label": {"font": "Liberation Serif"}},
    "legend": {"labelFont": "Liberation Serif", "labelFontSize": 18, "labelColor": "#000000", "cornerRadius": 0},
    "text": {"font": "Liberation Serif", "fontSize": 16.5, "align": "left", "baseline": "alphabetic", "color": "#000000"},
    "title": {"font": "Liberation Serif", "fontSize": 20, "fontWeight": "bold", "color": "#000000", "offset": 2, "frame": "group"}
  }
}
